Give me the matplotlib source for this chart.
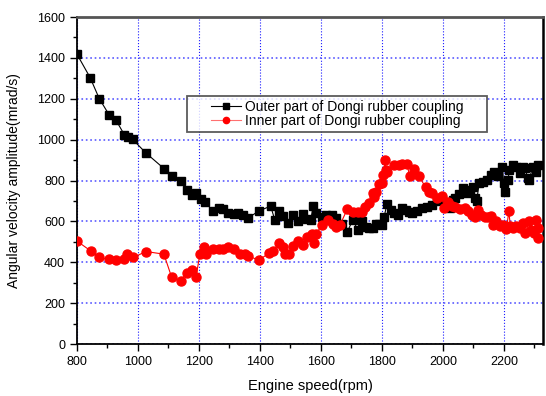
import numpy as np
import matplotlib.pyplot as plt
from matplotlib.ticker import MultipleLocator
from matplotlib.lines import Line2D
from matplotlib.legend_handler import HandlerLine2D

plt.rcParams['font.family'] = ['Liberation Sans', 'DejaVu Sans']

# outer part of the coupling (black squares)
outer_rpm = [800, 843, 873, 906, 928, 955, 968, 983, 1026, 1085, 1110, 1140, 1162, 1176,
             1190, 1205, 1220, 1245, 1267, 1280, 1296, 1315, 1329, 1345, 1362, 1397, 1435,
             1449, 1463, 1476, 1493, 1509, 1526, 1540, 1555, 1566, 1575, 1584, 1602, 1618,
             1635, 1649, 1668, 1686, 1704, 1722, 1736, 1748, 1758, 1769, 1780, 1791, 1799,
             1807, 1816, 1829, 1840, 1853, 1867, 1878, 1889, 1900, 1916, 1932, 1948, 1964,
             1981, 1997, 2008, 2022, 2032, 2040, 2051, 2067, 2078, 2089, 2099, 2105, 2110,
             2119, 2130, 2143, 2159, 2167, 2181, 2195, 2199, 2205, 2213, 2218, 2229, 2240,
             2251, 2262, 2270, 2278, 2283, 2294, 2305, 2310]
outer_amp = [1418, 1304, 1201, 1120, 1095, 1025, 1014, 1001, 935, 859, 823, 797, 756, 729,
             737, 712, 696, 652, 667, 659, 642, 636, 639, 630, 618, 652, 675,
             606, 652, 626, 593, 631, 601, 636, 610, 606, 676, 642, 622, 634,
             631, 619, 590, 549, 606, 557, 601, 574, 566, 566, 590, 590, 582,
             622, 683, 657, 641, 633, 665, 657, 644, 641, 649, 665, 673, 681,
             698, 706, 689, 665, 706, 714, 735, 763, 741, 754, 771, 714, 698,
             787, 795, 803, 828, 844, 820, 868, 787, 746, 803, 852, 876, 868,
             836, 868, 860, 811, 803, 868, 844, 876]

# inner part of the coupling (red circles)
inner_rpm = [800, 845, 873, 906, 928, 954, 965, 985, 1026, 1085, 1110, 1140, 1160, 1176,
             1190, 1203, 1216, 1223, 1245, 1267, 1280, 1296, 1315, 1333, 1351, 1362, 1397,
             1431, 1444, 1463, 1474, 1482, 1496, 1509, 1526, 1540, 1555, 1569, 1577, 1584,
             1602, 1624, 1640, 1649, 1662, 1686, 1704, 1722, 1736, 1744, 1758, 1770, 1774,
             1782, 1791, 1799, 1805, 1810, 1813, 1818, 1840, 1856, 1867, 1881, 1892, 1905,
             1921, 1943, 1954, 1964, 1981, 1997, 2004, 2018, 2029, 2040, 2056, 2072, 2083,
             2094, 2105, 2116, 2126, 2137, 2148, 2159, 2164, 2175, 2186, 2197, 2208, 2216,
             2221, 2229, 2240, 2251, 2262, 2270, 2283, 2289, 2300, 2305, 2310, 2312]
inner_amp = [504, 456, 424, 414, 411, 414, 440, 424, 453, 440, 329, 310, 349, 362,
             326, 440, 473, 440, 466, 463, 463, 473, 466, 442, 443, 430, 411,
             447, 456, 495, 473, 440, 440, 479, 505, 484, 522, 538, 495, 538,
             582, 606, 590, 574, 582, 659, 647, 647, 647, 671, 688, 738, 720,
             746, 784, 790, 826, 900, 852, 844, 876, 876, 880, 880, 820, 855,
             823, 767, 746, 738, 714, 725, 665, 693, 676, 670, 660, 665, 649,
             633, 621, 654, 633, 624, 621, 628, 584, 600, 576, 584, 563, 649,
             576, 567, 576, 567, 592, 543, 600, 559, 543, 608, 567, 519]

fig, ax = plt.subplots(figsize=(5.46, 3.96), dpi=100)
fig.subplots_adjust(left=0.141, right=0.9945, top=0.957, bottom=0.131)

ax.plot(outer_rpm, outer_amp, color='black', lw=0.8, marker='s', ms=6,
        mec='black', mfc='black', label='Outer part of Dongi rubber coupling', zorder=3)
ax.plot(inner_rpm, inner_amp, color='red', lw=0.8, marker='o', ms=6.5,
        mec='red', mfc='red', label='Inner part of Dongi rubber coupling', zorder=3)

ax.set_xlim(800, 2328)
ax.set_ylim(0, 1600)
ax.xaxis.set_major_locator(MultipleLocator(200))
ax.xaxis.set_minor_locator(MultipleLocator(100))
ax.yaxis.set_major_locator(MultipleLocator(200))
ax.yaxis.set_minor_locator(MultipleLocator(100))
ax.tick_params(which='major', direction='out', length=5, width=1, labelsize=9)
ax.tick_params(which='minor', direction='out', length=3, width=1)

# blue grid: thin verticals, softer dotted horizontals
ax.xaxis.grid(True, which='major', color='#1a1aff', linestyle=':', linewidth=0.8)
ax.yaxis.grid(True, which='major', color='#5a5aff', linestyle=':', linewidth=1.2)
ax.set_axisbelow(True)

for side in ['left', 'bottom']:
    ax.spines[side].set_linewidth(1.3)
ax.spines['top'].set_linewidth(2.0)
ax.spines['top'].set_color('#555555')
ax.spines['right'].set_linewidth(1.8)

ax.set_xlabel('Engine speed(rpm)', fontsize=10.5, labelpad=8)
ax.set_ylabel('Angular velocity amplitude(mrad/s)', fontsize=10, labelpad=12)

# legend box stretched over a fixed span; handles indented from the left edge
leg = ax.legend(loc='upper left', bbox_to_anchor=(0.236, 0.758, 0.644, 0.0),
                mode='expand', fontsize=10, frameon=True, fancybox=False,
                borderpad=0.25, labelspacing=0.05, handlelength=3.63,
                handletextpad=0.3, borderaxespad=0,
                handler_map={Line2D: HandlerLine2D(xpad=1.47)})
leg.get_frame().set_edgecolor('#333333')
leg.get_frame().set_linewidth(1.3)
leg.get_lines()[1].set_color('#ff7070')
leg.legend_handles[0].set_markersize(4)
leg.legend_handles[1].set_markersize(4.5)
leg.legend_handles[1].set_markerfacecolor('red')
leg.legend_handles[1].set_markeredgecolor('red')

fig.savefig('out.png', dpi=100)
